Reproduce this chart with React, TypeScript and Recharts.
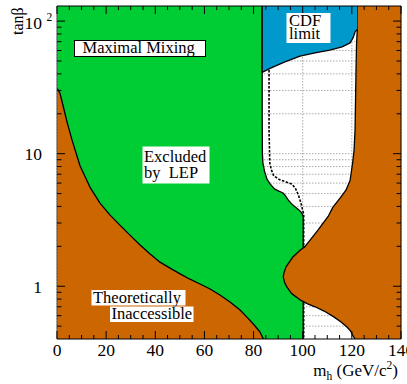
import React from 'react';
import { ComposedChart, XAxis, YAxis, Scatter, CartesianGrid } from 'recharts';

const SERIF = '"Liberation Serif", "Times New Roman", serif';

// axes
const X_DOMAIN: [number, number] = [0, 140];
const Y_DOMAIN: [number, number] = [0.4, 130];
const xTicks = [0, 5, 10, 15, 20, 25, 30, 35, 40, 45, 50, 55, 60, 65, 70, 75, 80, 85, 90, 95, 100, 105, 110, 115, 120, 125, 130, 135, 140];
const xMajorTicks = [0, 20, 40, 60, 80, 100, 120, 140];
const yTicks = [0.5, 0.6, 0.7, 0.8, 0.9, 1, 2, 3, 4, 5, 6, 7, 8, 9, 10, 20, 30, 40, 50, 60, 70, 80, 90, 100];
const yMajorTicks = [1, 10, 100];

// theoretically inaccessible, low-mass side (from top-left down to bottom)
const theoryLowMass = [0, 1.2, 2.4, 4.1, 6.1, 9.4, 13.4, 17.5, 21.6, 25.6, 29.7, 33.8, 37.9, 41.9, 46.0, 50.1, 54.1, 58.2, 62.3, 66.3, 70.4, 74.5, 77.7, 80.6, 82.6, 84.0];
const theoryLowTanb = [31.2, 28.6, 23.3, 17.3, 12.7, 8.07, 5.6, 4.24, 3.44, 2.89, 2.43, 2.05, 1.75, 1.52, 1.37, 1.24, 1.13, 1.04, 0.953, 0.859, 0.761, 0.662, 0.575, 0.501, 0.452, 0.4];

// theoretically inaccessible, high-mass side (top to bottom)
const theoryHighMass = [122.2, 122.2, 121.9, 121.7, 121.5, 121.3, 120.9, 120.3, 119.3, 117.6, 115.2, 112.3, 110.5, 106.2, 100.9, 98.9, 96.1, 93.2, 92.3, 92.1, 92.6, 93.5, 95.5, 98.9, 101.8, 105.0, 108.7, 112.5, 115.6, 117.9, 119.5, 120.3, 121.3];
const theoryHighTanb = [130, 85.5, 66, 43, 25.4, 15.1, 10.6, 8.5, 6.3, 5.3, 4.62, 3.95, 3.4, 2.65, 1.99, 1.87, 1.67, 1.4, 1.25, 1.17, 1.07, 0.99, 0.88, 0.79, 0.74, 0.70, 0.65, 0.59, 0.537, 0.495, 0.46, 0.428, 0.4];

// LEP observed exclusion boundary (top to bottom)
const lepObsMass = [83.5, 83.5, 83.6, 83.8, 84.5, 85.5, 86.8, 88.6, 90.5, 92.0, 93.0, 94.0, 95.4, 96.7, 98.2, 99.5, 100.2, 100.2];
const lepObsTanb = [130, 20, 10, 8.5, 7.3, 6.4, 5.9, 5.4, 5.2, 5.05, 4.8, 4.5, 4.2, 4.0, 3.8, 3.6, 3.38, 0.4];

// LEP expected exclusion (dashed)
const lepExpMass = [86.3, 86.3, 86.6, 87.2, 88.2, 90.7, 93.5, 95.5, 97.0, 98.2, 99.2, 99.9, 100.4, 100.4];
const lepExpTanb = [130, 15, 8.5, 7.6, 6.8, 6.35, 6.1, 5.9, 5.5, 4.9, 4.3, 3.8, 3.5, 0.4];

// CDF limit lower edge (left to right)
const cdfMass = [83.5, 86.7, 92.5, 98.9, 105, 111, 116, 119.3, 120.5, 121.3, 122.2];
const cdfTanb = [41, 44, 49, 54.5, 57.5, 60.5, 64, 68.6, 75, 83, 86];

const GREEN = '#00cc33';
const ORANGE = '#cc6600';
const BLUE = '#0099cc';

type P = { m: number; t: number };
const zip = (ms: number[], ts: number[]): P[] => ms.map((m, i) => ({ m, t: ts[i] }));

const lepObs = zip(lepObsMass, lepObsTanb);
const lepExp = zip(lepExpMass, lepExpTanb);
const theoryLow = zip(theoryLowMass, theoryLowTanb);
const theoryHigh = zip(theoryHighMass, theoryHighTanb);
const cdf = zip(cdfMass, cdfTanb);

const greenPoly: P[] = [{ m: X_DOMAIN[0], t: Y_DOMAIN[0] }, { m: X_DOMAIN[0], t: Y_DOMAIN[1] }, ...lepObs];
const theoryLowPoly: P[] = [...theoryLow, { m: X_DOMAIN[0], t: Y_DOMAIN[0] }];
const theoryHighPoly: P[] = [{ m: X_DOMAIN[1], t: Y_DOMAIN[1] }, ...theoryHigh, { m: X_DOMAIN[1], t: Y_DOMAIN[0] }];
const cdfPoly: P[] = [{ m: cdfMass[0], t: Y_DOMAIN[1] }, ...cdf, { m: cdfMass[cdfMass.length - 1], t: Y_DOMAIN[1] }];
const cdfEdge: P[] = [{ m: cdfMass[0], t: Y_DOMAIN[1] }, ...cdf];

const toPath = (pts: any[], close: boolean) => {
  if (!pts || !pts.length) return '';
  const d = pts.map((p, i) => `${i ? 'L' : 'M'}${p.x},${p.y}`).join(' ');
  return close ? d + ' Z' : d;
};

const fillLine = (fill: string) => (props: any) => (
  <path d={toPath(props.points, true)} fill={fill} stroke="none" />
);
const strokeLine = (width: number, dash?: string) => (props: any) => (
  <path d={toPath(props.points, false)} fill="none" stroke="#000" strokeWidth={width} strokeDasharray={dash} strokeLinejoin="round" />
);
const noShape = () => <g />;

const BottomTick = (p: any) => {
  const { x, y, payload } = p;
  const v = payload.value;
  const major = v % 20 === 0;
  return (
    <g>
      <line x1={x} x2={x} y1={y} y2={y - (major ? 8 : 4)} stroke="#000" strokeWidth={1} />
      {major && (
        <text x={x} y={y + 17} textAnchor="middle" fontSize={17.5} fontFamily={SERIF} fill="#000">
          {v}
        </text>
      )}
    </g>
  );
};
const TopTick = (p: any) => {
  const { x, y, payload } = p;
  const major = payload.value % 20 === 0;
  return <line x1={x} x2={x} y1={y} y2={y + (major ? 8 : 4)} stroke="#000" strokeWidth={1} />;
};
const LeftTick = (p: any) => {
  const { x, y, payload } = p;
  const v = payload.value;
  const major = yMajorTicks.includes(v);
  return (
    <g>
      <line x1={x} x2={x + (major ? 8 : 4.5)} y1={y} y2={y} stroke="#000" strokeWidth={1} />
      {major && v !== 100 && (
        <text x={x - 15} y={y + 6.5} textAnchor="end" fontSize={17.5} fontFamily={SERIF} fill="#000">
          {v}
        </text>
      )}
      {v === 100 && (
        <g>
          <text x={x - 15} y={y + 8} textAnchor="end" fontSize={17.5} fontFamily={SERIF} fill="#000">10</text>
          <text x={x - 10.5} y={y - 0.5} fontSize={11.5} fontFamily={SERIF} fill="#000">2</text>
        </g>
      )}
    </g>
  );
};
const RightTick = (p: any) => {
  const { x, y, payload } = p;
  const major = yMajorTicks.includes(payload.value);
  return <line x1={x} x2={x - (major ? 8 : 4.5)} y1={y} y2={y} stroke="#000" strokeWidth={1} />;
};

export default function App() {
  return (
    <div style={{ position: 'absolute', left: 0, top: 0, width: 407, height: 384, background: '#fff' }}>
      <ComposedChart width={407} height={384} margin={{ top: 0, right: 0, bottom: 0, left: 0 }}>
        <CartesianGrid
          stroke="#aaa"
          strokeDasharray="1.5 1.5"
          horizontalValues={yTicks}
          verticalValues={xMajorTicks}
        />
        <Scatter data={greenPoly} dataKey="t" shape={noShape} line={fillLine(GREEN)} isAnimationActive={false} zIndex={100} />
        <Scatter data={lepObs} dataKey="t" shape={noShape} line={strokeLine(1.3)} isAnimationActive={false} zIndex={101} />
        <Scatter data={lepExp} dataKey="t" shape={noShape} line={strokeLine(1.6, '2.5 1.5')} isAnimationActive={false} zIndex={102} />
        <Scatter data={theoryLowPoly} dataKey="t" shape={noShape} line={fillLine(ORANGE)} isAnimationActive={false} zIndex={103} />
        <Scatter data={theoryLow} dataKey="t" shape={noShape} line={strokeLine(1.3)} isAnimationActive={false} zIndex={104} />
        <Scatter data={theoryHighPoly} dataKey="t" shape={noShape} line={fillLine(ORANGE)} isAnimationActive={false} zIndex={105} />
        <Scatter data={theoryHigh} dataKey="t" shape={noShape} line={strokeLine(1.3)} isAnimationActive={false} zIndex={106} />
        <Scatter data={cdfPoly} dataKey="t" shape={noShape} line={fillLine(BLUE)} isAnimationActive={false} zIndex={107} />
        <Scatter data={cdfEdge} dataKey="t" shape={noShape} line={strokeLine(1.3)} isAnimationActive={false} zIndex={108} />
        <XAxis
          type="number"
          dataKey="m"
          domain={X_DOMAIN}
          allowDataOverflow
          ticks={xTicks}
          interval={0}
          height={45}
          tickSize={0}
          tickMargin={0}
          tickLine={false}
          axisLine={{ stroke: '#000', strokeWidth: 1 }}
          tick={BottomTick}
          zIndex={1000}
        />
        <XAxis
          xAxisId="top"
          orientation="top"
          type="number"
          dataKey="m"
          domain={X_DOMAIN}
          allowDataOverflow
          ticks={xTicks}
          interval={0}
          height={6}
          tickSize={0}
          tickMargin={0}
          tickLine={false}
          axisLine={{ stroke: '#000', strokeWidth: 1 }}
          tick={TopTick}
          zIndex={1000}
        />
        <YAxis
          type="number"
          dataKey="t"
          scale="log"
          domain={Y_DOMAIN}
          allowDataOverflow
          ticks={yTicks}
          interval={0}
          width={57}
          tickSize={0}
          tickMargin={0}
          tickLine={false}
          axisLine={{ stroke: '#555', strokeWidth: 1 }}
          tick={LeftTick}
          zIndex={1000}
        />
        <YAxis
          yAxisId="right"
          orientation="right"
          type="number"
          dataKey="t"
          scale="log"
          domain={Y_DOMAIN}
          allowDataOverflow
          ticks={yTicks}
          interval={0}
          width={6}
          tickSize={0}
          tickMargin={0}
          tickLine={false}
          axisLine={{ stroke: '#000', strokeWidth: 1 }}
          tick={RightTick}
          zIndex={1000}
        />
      </ComposedChart>
      <svg
        width={407}
        height={384}
        style={{ position: 'absolute', left: 0, top: 0, pointerEvents: 'none' }}
        fontFamily={SERIF}
      >
        <text transform="translate(23,35) rotate(-90)" fontSize={16} fill="#000">tanβ</text>
        <text x={398} y={376} textAnchor="end" fontSize={17} fill="#000">
          m<tspan dy={4} fontSize={11.5}>h</tspan>
          <tspan dy={-4}> (GeV/c</tspan>
          <tspan dy={-7} fontSize={11.5}>2</tspan>
          <tspan dy={7}>)</tspan>
        </text>

        <rect x={74.5} y={40.5} width={131} height={16} fill="#fff" stroke="#000" strokeWidth={1} />
        <text x={82.5} y={52.5} fontSize={16.5} fill="#000">Maximal Mixing</text>

        <rect x={142.5} y={146.5} width={67} height={37} fill="#fff" />
        <text x={144} y={161.5} fontSize={16.5} fill="#000">Excluded</text>
        <text x={144} y={177.5} fontSize={16.5} fill="#000" xmlSpace="preserve">by  LEP</text>

        <rect x={286.5} y={13} width={44} height={30} fill="#fff" />
        <text x={289} y={25.5} fontSize={16.5} fill="#000">CDF</text>
        <text x={289} y={38.5} fontSize={16.5} fill="#000">limit</text>

        <rect x={91.5} y={290} width={94} height={15.5} fill="#fff" />
        <text x={93} y={302.5} fontSize={16.5} fill="#000">Theoretically</text>
        <rect x={110} y={306.5} width={83.5} height={15.5} fill="#fff" />
        <text x={111.5} y={319} fontSize={16.5} fill="#000">Inaccessible</text>
      </svg>
    </div>
  );
}
